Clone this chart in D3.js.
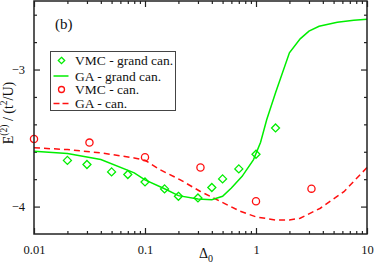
<!DOCTYPE html>
<html>
<head>
<meta charset="utf-8">
<script src="https://cdn.jsdelivr.net/npm/d3@7"></script>
<style>
  body { margin: 0; background: #fff; }
  text { font-family: "Liberation Serif", "DejaVu Serif", serif; fill: #111; }
</style>
</head>
<body>
<svg width="374" height="265"></svg>
<script>
// values
var vmcGrandD = [0.02, 0.03, 0.05, 0.07, 0.1, 0.15, 0.2, 0.3, 0.4, 0.5, 0.7, 1.0, 1.5];
var vmcGrandE = [-3.663, -3.693, -3.747, -3.766, -3.820, -3.871, -3.925, -3.937, -3.861, -3.798, -3.725, -3.618, -3.426];

var gaGrandD = [0.01, 0.02, 0.04, 0.08, 0.1, 0.15, 0.2, 0.3, 0.4, 0.5, 0.6, 0.75, 0.95, 1.1, 1.25, 1.5, 2, 2.5, 3, 3.7, 5.4, 7.6, 10];
var gaGrandE = [-3.596, -3.613, -3.657, -3.754, -3.805, -3.870, -3.920, -3.944, -3.950, -3.925, -3.864, -3.779, -3.657, -3.530, -3.365, -3.170, -2.878, -2.776, -2.720, -2.684, -2.655, -2.640, -2.633];

var vmcCanD = [0.01, 0.0316, 0.1, 0.316, 1.0, 3.16];
var vmcCanE = [-3.506, -3.533, -3.640, -3.715, -3.961, -3.869];

var gaCanD = [0.01, 0.02, 0.04, 0.08, 0.1, 0.136, 0.206, 0.313, 0.474, 0.72, 1.0, 1.5, 2, 2.5, 3.8, 6.2, 10];
var gaCanE = [-3.571, -3.584, -3.608, -3.645, -3.662, -3.730, -3.803, -3.888, -3.961, -4.034, -4.075, -4.098, -4.098, -4.085, -4.012, -3.891, -3.715];

var xMajor = [0.01, 0.1, 1, 10];
var xMajorLabels = ["0.01", "0.1", "1", "10"];
var yMajor = [-4, -3];
var yMinor = [-3.8, -3.6, -3.4, -3.2, -2.8, -2.6];

var legendNames = ["VMC - grand can.", "GA - grand can.", "VMC - can.", "GA - can."];

var green = "#00ee00", red = "#ff1010", ink = "#222";

var svg = d3.select("svg"),
    margin = {top: 1, right: 7, bottom: 31, left: 34},
    width = 374 - margin.left - margin.right,
    height = 265 - margin.top - margin.bottom;

var x = d3.scaleLog().domain([0.01, 10]).range([0, width]);
var y = d3.scaleLinear().domain([-4.2, -2.5]).range([height, 0]);

var g = svg.append("g").attr("transform", "translate(" + margin.left + "," + margin.top + ")");

// minor ticks on the log axis: 2..9 in each decade
var xMinor = [];
[0.01, 0.1, 1].forEach(function(dec) {
  for (var k = 2; k <= 9; k++) xMinor.push(dec * k);
});

function styleAxis(sel) {
  sel.select(".domain").remove();
  sel.selectAll("line").attr("stroke", ink).attr("stroke-width", 1.2);
  sel.selectAll("text").style("font-size", "12.5px").style("fill", "#111");
}

g.append("g").attr("transform", "translate(0," + height + ")")
  .call(d3.axisBottom(x).tickValues(xMajor).tickSize(-6).tickPadding(11)
    .tickFormat(function(d, i) { return xMajorLabels[i]; }))
  .call(styleAxis);
g.append("g").attr("transform", "translate(0," + height + ")")
  .call(d3.axisBottom(x).tickValues(xMinor).tickSize(-3).tickFormat(""))
  .call(styleAxis);
g.append("g")
  .call(d3.axisTop(x).tickValues(xMajor).tickSize(-6).tickFormat(""))
  .call(styleAxis);
g.append("g")
  .call(d3.axisTop(x).tickValues(xMinor).tickSize(-3).tickFormat(""))
  .call(styleAxis);

g.append("g")
  .call(d3.axisLeft(y).tickValues(yMajor).tickSize(-6).tickPadding(9).tickFormat(d3.format("d")))
  .call(styleAxis);
g.append("g")
  .call(d3.axisLeft(y).tickValues(yMinor).tickSize(-3).tickFormat(""))
  .call(styleAxis);
g.append("g").attr("transform", "translate(" + width + ",0)")
  .call(d3.axisRight(y).tickValues(yMajor).tickSize(-6).tickFormat(""))
  .call(styleAxis);
g.append("g").attr("transform", "translate(" + width + ",0)")
  .call(d3.axisRight(y).tickValues(yMinor).tickSize(-3).tickFormat(""))
  .call(styleAxis);

// lines
var line = d3.line()
  .x(function(d) { return x(d[0]); })
  .y(function(d) { return y(d[1]); });

g.append("path")
  .datum(d3.zip(gaCanD, gaCanE))
  .attr("fill", "none").attr("stroke", red).attr("stroke-width", 1.5)
  .attr("stroke-dasharray", "6,4")
  .attr("d", line);

g.append("path")
  .datum(d3.zip(gaGrandD, gaGrandE))
  .attr("fill", "none").attr("stroke", green).attr("stroke-width", 1.5)
  .attr("d", line);

// markers
function diamond(r) { return "M0," + (-r) + "L" + r + ",0L0," + r + "L" + (-r) + ",0Z"; }

g.append("g").selectAll("path")
  .data(d3.zip(vmcGrandD, vmcGrandE)).enter()
  .append("path")
  .attr("transform", function(d) { return "translate(" + x(d[0]) + "," + y(d[1]) + ")"; })
  .attr("d", diamond(4))
  .attr("fill", "none").attr("stroke", green).attr("stroke-width", 1.3);

g.append("g").selectAll("circle")
  .data(d3.zip(vmcCanD, vmcCanE)).enter()
  .append("circle")
  .attr("cx", function(d) { return x(d[0]); })
  .attr("cy", function(d) { return y(d[1]); })
  .attr("r", 3.6)
  .attr("fill", "none").attr("stroke", red).attr("stroke-width", 1.3);

// frame
g.append("rect")
  .attr("width", width).attr("height", height)
  .attr("fill", "none").attr("stroke", ink).attr("stroke-width", 1.5);

// legend
var legend = svg.append("g").attr("transform", "translate(50.5,51.5)");
legend.append("rect")
  .attr("width", 125).attr("height", 59)
  .attr("fill", "#fff").attr("stroke", "#444").attr("stroke-width", 1);

var rowY = [9, 24.5, 38, 52];
legend.append("path")
  .attr("transform", "translate(11," + rowY[0] + ")")
  .attr("d", diamond(3.2))
  .attr("fill", "none").attr("stroke", green).attr("stroke-width", 1.3);
legend.append("line")
  .attr("x1", 3).attr("x2", 18).attr("y1", rowY[1]).attr("y2", rowY[1])
  .attr("stroke", green).attr("stroke-width", 1.5);
legend.append("circle")
  .attr("cx", 11).attr("cy", rowY[2]).attr("r", 3)
  .attr("fill", "none").attr("stroke", red).attr("stroke-width", 1.3);
legend.append("line")
  .attr("x1", 3).attr("x2", 18).attr("y1", rowY[3]).attr("y2", rowY[3])
  .attr("stroke", red).attr("stroke-width", 1.5).attr("stroke-dasharray", "6,3");

legend.selectAll("text.lab")
  .data(legendNames).enter()
  .append("text").attr("class", "lab")
  .attr("x", 24.5)
  .attr("y", function(d, i) { return rowY[i] + 4.5; })
  .style("font-size", "13.5px")
  .text(function(d) { return d; });

// panel label
svg.append("text")
  .attr("x", 55).attr("y", 29)
  .style("font-size", "15px")
  .text("(b)");

// axis titles
svg.append("text")
  .attr("x", 199).attr("y", 258)
  .style("font-size", "14px")
  .html('&#916;<tspan dy="4" style="font-size:10px">0</tspan>');

svg.append("text")
  .attr("transform", "translate(13,113) rotate(-90)")
  .attr("text-anchor", "middle")
  .style("font-size", "14px")
  .html('E<tspan dy="-6" style="font-size:9.5px">(2)</tspan><tspan dy="6"> / (t</tspan><tspan dy="-6" style="font-size:9.5px">2</tspan><tspan dy="6">/U)</tspan>');
</script>
</body>
</html>
